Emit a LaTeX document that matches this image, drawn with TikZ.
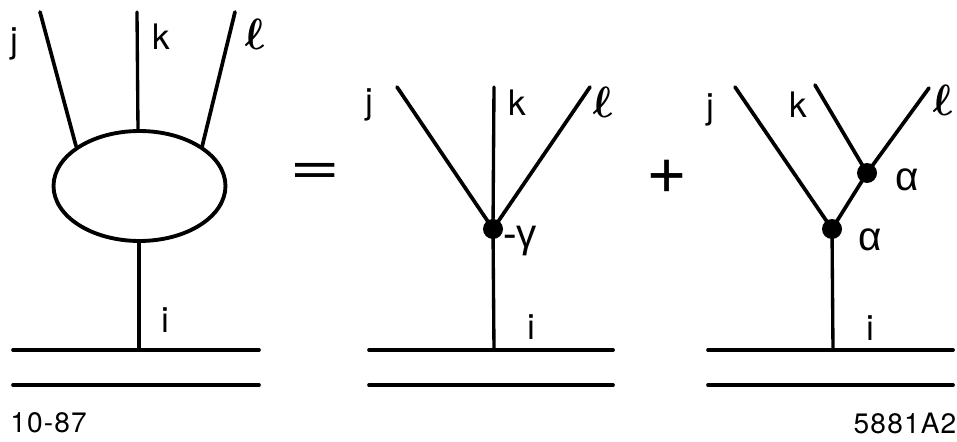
\documentclass[tikz,border=0pt]{standalone}
\usepackage{fontspec}
\setmainfont{TeX Gyre Heros}
\newfontfamily\greekfont{Liberation Sans}
\newfontfamily\tagfont[LetterSpace=4]{TeX Gyre Heros}
\usetikzlibrary{shapes.geometric}
\tikzset{
  leg/.style={line width=2.1pt,line cap=round},
  stem/.style={line width=1.9pt,line cap=round},
  vertex/.style={circle,fill=black,inner sep=0pt,minimum size=0.4cm},
  lab/.style={font=\fontsize{20}{20}\selectfont,inner sep=0pt},
  greek/.style={font=\fontsize{23}{23}\greekfont,inner sep=0pt},
  curly/.style={font=\fontsize{27}{27}\selectfont\boldmath,inner sep=0pt,xslant=-0.12,transform shape},
  tag/.style={font=\fontsize{16}{16}\tagfont,inner sep=0pt},
  sign/.style={font=\fontsize{40}{40}\selectfont,inner sep=0pt}
}
\begin{document}
\begin{tikzpicture}[x=0.02cm,y=-0.02cm]
        \useasboundingbox (0,0) rectangle (957,442);
        % left: blob
        \node[ellipse,draw,line width=2.2pt,minimum width=3.44cm,minimum height=2.2cm,inner sep=0pt] (blob) at (139.5,186) {};
        \coordinate (ja) at (40,12);
        \coordinate (jb) at (76,146);
        \coordinate (ka) at (137,12);
        \coordinate (kb) at (138,130);
        \coordinate (la) at (235,12);
        \coordinate (lb) at (202,147);
        \coordinate (ib) at (139,241);
        \coordinate (ia) at (139,350);
        \draw[leg] (ja) -- (jb);
        \draw[stem] (ka) -- (kb);
        \draw[leg] (la) -- (lb);
        \draw[stem] (ib) -- (ia);
        % middle: one vertex
        \node[vertex] (gam) at (493,229) {};
        \coordinate (jm) at (397,87);
        \coordinate (km) at (494,87);
        \coordinate (lm) at (590,87);
        \coordinate (im) at (494,350);
        \draw[leg] (jm) -- (gam.center);
        \draw[stem] (km) -- (gam.center);
        \draw[leg] (lm) -- (gam.center);
        \draw[stem] (gam.center) -- (im);
        % right: two vertices
        \node[vertex] (alo) at (832,229) {};
        \node[vertex] (ahi) at (867,173) {};
        \coordinate (jr) at (735,87);
        \coordinate (kr) at (815,85);
        \coordinate (lr) at (929,88);
        \coordinate (ir) at (833,350);
        \draw[leg] (jr) -- (alo.center);
        \draw[leg] (alo.center) -- (ahi.center);
        \draw[leg] (kr) -- (ahi.center);
        \draw[leg] (lr) -- (ahi.center);
        \draw[stem] (alo.center) -- (ir);
        % double lines
        \foreach \name/\xa/\xb in {a/13/259,b/369/613,c/708/953} {
            \coordinate (up\name a) at (\xa,350);
            \coordinate (up\name b) at (\xb,350);
            \coordinate (lo\name a) at (\xa,385);
            \coordinate (lo\name b) at (\xb,385);
            \draw[leg] (up\name a) -- (up\name b);
            \draw[leg] (lo\name a) -- (lo\name b);
        }
        % labels
        \node[lab] (j1) at (14,44) {j};
        \node[lab] (k1) at (161,37) {k};
        \node[curly] (l1) at (254,34) {$\ell$};
        \node[lab] (i1) at (165,320) {i};
        \node[lab] (j2) at (369,105) {j};
        \node[lab] (k2) at (517,103) {k};
        \node[curly] (l2) at (602,102) {$\ell$};
        \node[lab] (i2) at (531,327) {i};
        \node[greek] (g2) at (520,241) {-γ};
        \node[lab] (j3) at (710,110) {j};
        \node[lab] (k3) at (798,105) {k};
        \node[curly] (l3) at (942,100) {$\ell$};
        \node[lab] (i3) at (870,328) {i};
        \node[greek] (a1) at (907,180) {α};
        \node[greek] (a2) at (870,240) {α};
        \node[sign] (eq) at (315,173.5) {\scalebox{1.25}[0.8]{=}};
        \node[sign] (plus) at (667,177) {+};
        \node[tag] (date) at (48.5,423) {10-87};
        \node[tag] (code) at (905,423) {5881A2};
    \end{tikzpicture}
\end{document}
